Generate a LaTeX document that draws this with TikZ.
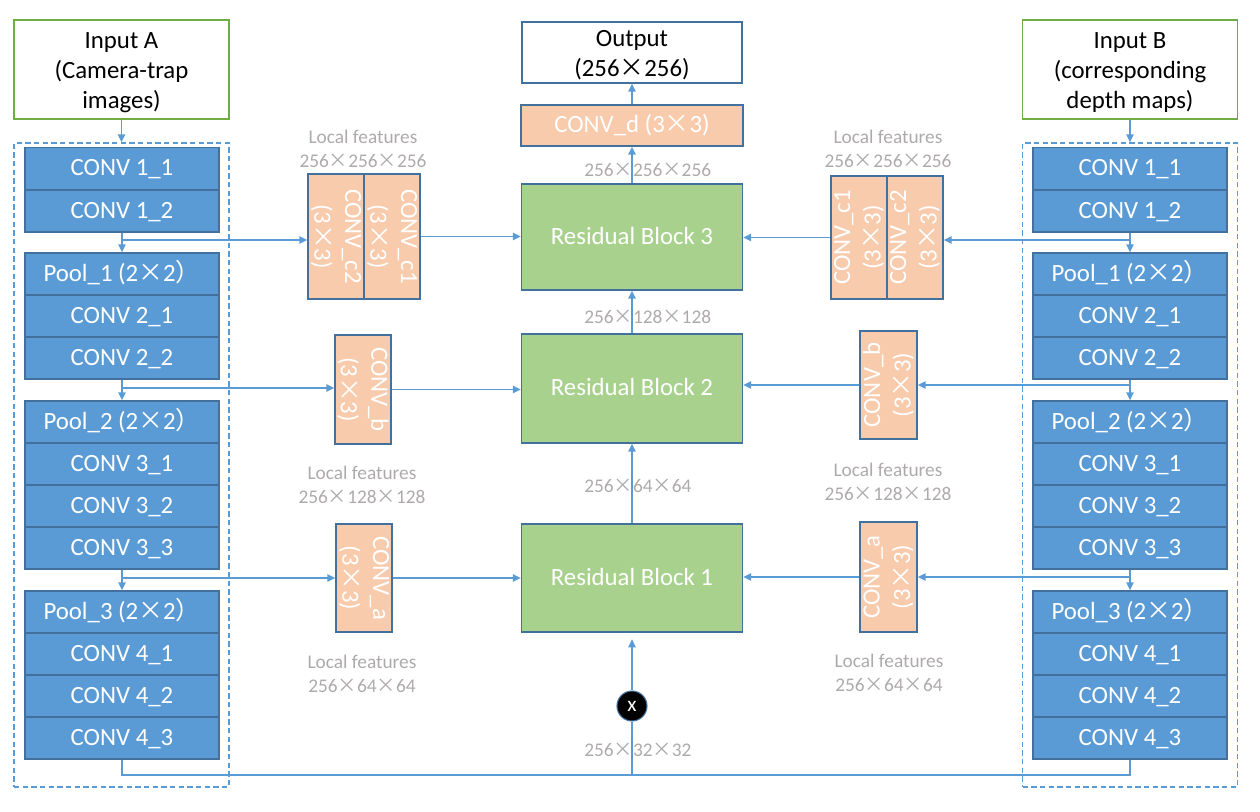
\documentclass[tikz,border=0pt]{standalone}
\usepackage{fontspec}
\setmainfont{Carlito}
\newfontfamily\cjk{Noto Sans CJK SC}
\usetikzlibrary{arrows.meta}
\newcommand\tms{\makebox[1em]{\cjk ×}}
\newcommand\fwrp{{\cjk ）}}
\definecolor{blk}{HTML}{5B9BD5}
\definecolor{bord}{HTML}{41719C}
\definecolor{org}{HTML}{F8CBAD}
\definecolor{grn}{HTML}{A9D18E}
\definecolor{ingr}{HTML}{70AD47}
\definecolor{lbl}{HTML}{AEAAAA}
\tikzset{
 base/.style={inner sep=0pt, line width=1pt, align=center, font=\fontsize{18.6}{22.5}\selectfont},
 oneline/.style={text height=1.05em, text depth=0pt},
 bluebox/.style={base, oneline, draw=bord, fill=blk, text=white, minimum width=145.5pt, minimum height=31.5pt},
 inbox/.style={base, draw=ingr, fill=white, minimum width=161.25pt, minimum height=74.25pt},
 dashbox/.style={draw=blk, dash pattern=on 4pt off 2.5pt, line width=1pt, inner sep=0pt, minimum width=161.25pt, minimum height=483pt},
 orbox/.style={base, draw=bord, fill=org, text=white},
 resbox/.style={base, oneline, draw=bord, fill=grn, text=white, minimum width=165.75pt},
 rtext/.style={inner sep=0pt, align=center, text=white, font=\fontsize{18.6}{23}\selectfont},
 btext/.style={inner sep=0pt, align=center, text=black, font=\fontsize{18.6}{22.5}\selectfont},
 gl/.style={text=lbl, inner sep=0pt, align=center, font=\fontsize{14.5}{18}\selectfont},
 arr/.style={draw=blk, line width=1.1pt, -{Triangle[length=6pt,width=5.5pt]}},
 conn/.style={draw=blk, line width=1.1pt},
}
\begin{document}
\begin{tikzpicture}[x=0.75pt,y=-0.75pt]
\useasboundingbox (0,0) rectangle (1260,811);
% inputs
\node[inbox] (inA) at (121.5,69.5) {};
\node[btext] at ([yshift=-2.6pt]inA.center) {Input A\\(Camera-trap\\images)};
\node[inbox] (inB) at (1130,69.5) {};
\node[btext] at ([yshift=-2.6pt]inB.center) {Input B\\(corresponding\\depth maps)};
\node[dashbox] (dA) at (121.5,465) {};
\node[dashbox] (dB) at (1130,465) {};
% columns
\foreach \s/\x in {a/122,b/1130}{
 \foreach \n/\t/\y in {11/{CONV 1\_1}/168.5, 12/{CONV 1\_2}/211,
   p1/{Pool\_1 (2\tms2\fwrp}/274, 21/{CONV 2\_1}/316, 22/{CONV 2\_2}/358,
   p2/{Pool\_2 (2\tms2\fwrp}/422, 31/{CONV 3\_1}/464, 32/{CONV 3\_2}/506, 33/{CONV 3\_3}/548,
   p3/{Pool\_3 (2\tms2\fwrp}/612, 41/{CONV 4\_1}/654, 42/{CONV 4\_2}/696, 43/{CONV 4\_3}/738}
 {\node[bluebox] (\s\n) at (\x,\y) {\t};}
}
% central column
\node[base, draw=bord, fill=white, minimum width=165pt, minimum height=45.75pt] (out) at (632,52.5) {};
\node[btext] at ([yshift=-2.3pt]out.center) {Output\\(256\tms256)};
\node[orbox, oneline, minimum width=166.5pt, minimum height=30.75pt] (cd) at (632,125.5) {CONV\_d (3\tms3)};
\node[resbox, minimum height=79.5pt] (rb3) at (632,237) {Residual Block 3};
\node[resbox, minimum height=81.75pt] (rb2) at (632,388.5) {Residual Block 2};
\node[resbox, minimum height=81pt] (rb1) at (632,578) {Residual Block 1};
\node[circle, fill=black, draw=bord, line width=0.8pt, minimum size=22.5pt, inner sep=0pt, text=white, font=\fontsize{16}{18}\selectfont] (xc) at (632,706) {x};
% left orange boxes
\node[orbox, minimum width=42pt, minimum height=93.75pt] (lc2) at (336,236.5) {};
\node[orbox, minimum width=42pt, minimum height=93.75pt] (lc1) at (392,236.5) {};
\node[rtext, rotate=-90] at (lc2) {CONV\_c2\\(3\tms3)};
\node[rtext, rotate=-90] at (lc1) {CONV\_c1\\(3\tms3)};
\node[orbox, minimum width=42pt, minimum height=81.75pt] (lb) at (363,389.5) {};
\node[rtext, rotate=-90] at (lb) {CONV\_b\\(3\tms3)};
\node[orbox, minimum width=42pt, minimum height=81pt] (la) at (364,578) {};
\node[rtext, rotate=-90] at (la) {CONV\_a\\(3\tms3)};
% right orange boxes
\node[orbox, minimum width=42pt, minimum height=92.25pt] (rc1) at (859,237.5) {};
\node[orbox, minimum width=42pt, minimum height=92.25pt] (rc2) at (915,237.5) {};
\node[rtext, rotate=90] at (rc1) {CONV\_c1\\(3\tms3)};
\node[rtext, rotate=90] at (rc2) {CONV\_c2\\(3\tms3)};
\node[orbox, minimum width=42.75pt, minimum height=81pt] (rbb) at (888.5,385) {};
\node[rtext, rotate=90] at (rbb) {CONV\_b\\(3\tms3)};
\node[orbox, minimum width=42.75pt, minimum height=82.5pt] (rba) at (888.5,577) {};
\node[rtext, rotate=90] at (rba) {CONV\_a\\(3\tms3)};
% input arrows
\draw[arr] (inA.south) -- (dA.north);
\draw[arr] (inB.south) -- (dB.north);
% column arrows
\foreach \s in {a,b}{
 \draw[arr] (\s12.south) -- (\s p1.north);
 \draw[arr] (\s22.south) -- (\s p2.north);
 \draw[arr] (\s33.south) -- (\s p3.north);
}
% branch coordinates
\coordinate (ja1) at (122,240);
\coordinate (ja2) at (122,388);
\coordinate (ja3) at (122,578);
\coordinate (jb1) at (1130,240);
\coordinate (jb2) at (1130,385);
\coordinate (jb3) at (1130,577);
\draw[arr] (ja1) -- (ja1 -| lc2.west);
\draw[arr] (ja2) -- (ja2 -| lb.west);
\draw[arr] (ja3) -- (ja3 -| la.west);
\draw[arr] (jb1) -- (jb1 -| rc2.east);
\draw[arr] (jb2) -- (jb2 -| rbb.east);
\draw[arr] (jb3) -- (jb3 -| rba.east);
% orange to residual
\draw[arr] (lc1.east) -- (lc1.east -| rb3.west);
\draw[arr] (lb.east) -- (lb.east -| rb2.west);
\draw[arr] (la.east) -- (la.east -| rb1.west);
\draw[arr] (rc1.west) -- (rc1.west -| rb3.east);
\draw[arr] (rbb.west) -- (rbb.west -| rb2.east);
\draw[arr] (rba.west) -- (rba.west -| rb1.east);
% central arrows
\draw[arr] (rb1.north) -- (rb2.south);
\draw[arr] (rb2.north) -- (rb3.south);
\draw[arr] (rb3.north) -- (cd.south);
\draw[arr] (cd.north) -- (out.south);
% bottom line
\coordinate (bot) at (632,775);
\draw[conn] (a43.south) |- (bot) -| (b43.south);
\draw[conn] (bot) -- (xc.south);
\draw[arr, shorten >=5pt] (xc.north) -- (rb1.south);
% labels
\node[gl] at (363,149) {Local features\\256\tms256\tms256};
\node[gl] at (888,149) {Local features\\256\tms256\tms256};
\node[gl] at (362,485) {Local features\\256\tms128\tms128};
\node[gl] at (888,482) {Local features\\256\tms128\tms128};
\node[gl] at (362,674) {Local features\\256\tms64\tms64};
\node[gl] at (889,673) {Local features\\256\tms64\tms64};
\node[gl, anchor=west] at (584,170) {256\tms256\tms256};
\node[gl, anchor=west] at (584,317) {256\tms128\tms128};
\node[gl, anchor=west] at (584,486) {256\tms64\tms64};
\node[gl, anchor=west] at (584,750) {256\tms32\tms32};
\end{tikzpicture}
\end{document}
